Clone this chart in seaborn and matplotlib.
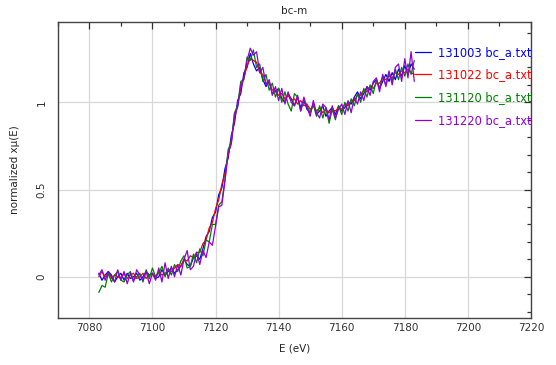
import numpy as np
import pandas as pd
import matplotlib
matplotlib.use("Agg")
import matplotlib.pyplot as plt
from matplotlib.ticker import MultipleLocator
import seaborn as sns

# Energie (eV), pas de 1 eV
energy = np.arange(7083, 7184, 1.0)

# Spectres normalises
s131003 = [0.02, -0.02, 0.01, 0.03, 0.01, -0.03, 0.00, 0.02, -0.02, 0.02,
           -0.01, 0.00, 0.02, -0.02, 0.00, 0.03, 0.01, 0.02, -0.01, 0.00,
           0.04, 0.01, 0.03, 0.05, 0.02, 0.04, 0.06, 0.10, 0.07, 0.06,
           0.11, 0.12, 0.10, 0.16, 0.23, 0.26, 0.34, 0.37, 0.47, 0.51,
           0.62, 0.68, 0.81, 0.88, 1.01, 1.05, 1.17, 1.20, 1.28, 1.22,
           1.18, 1.20, 1.13, 1.09, 1.12, 1.05, 1.06, 1.08, 1.02, 1.00,
           1.05, 1.02, 0.98, 1.03, 0.97, 1.01, 0.96, 0.94, 0.99, 0.93,
           0.95, 0.98, 0.92, 0.95, 0.97, 0.93, 0.98, 0.95, 0.97, 1.00,
           0.99, 1.03, 1.06, 1.02, 1.05, 1.09, 1.07, 1.11, 1.13, 1.08,
           1.12, 1.16, 1.12, 1.17, 1.13, 1.19, 1.15, 1.21, 1.16, 1.22,
           1.19]
s131022 = [0.00, 0.03, 0.00, 0.02, -0.01, 0.01, 0.00, -0.01, 0.02, -0.01,
           0.01, 0.02, -0.01, 0.00, 0.02, -0.01, 0.01, 0.02, 0.00, 0.03,
           0.01, 0.02, 0.04, 0.03, 0.05, 0.07, 0.06, 0.10, 0.09, 0.12,
           0.11, 0.14, 0.14, 0.19, 0.21, 0.28, 0.31, 0.39, 0.44, 0.53,
           0.59, 0.70, 0.78, 0.91, 0.98, 1.08, 1.14, 1.21, 1.25, 1.24,
           1.23, 1.17, 1.16, 1.11, 1.11, 1.07, 1.07, 1.04, 1.05, 1.02,
           1.04, 1.01, 1.02, 0.99, 1.01, 0.98, 0.99, 0.96, 0.98, 0.95,
           0.97, 0.94, 0.96, 0.94, 0.96, 0.95, 0.97, 0.96, 0.99, 0.98,
           1.01, 1.01, 1.04, 1.04, 1.07, 1.06, 1.09, 1.08, 1.11, 1.11,
           1.14, 1.13, 1.15, 1.14, 1.17, 1.16, 1.18, 1.17, 1.19, 1.17,
           1.16]
s131120 = [-0.09, -0.05, -0.06, 0.02, -0.03, 0.01, 0.03, -0.02, -0.03, 0.01,
           0.03, -0.02, 0.00, 0.02, -0.03, 0.04, -0.01, 0.05, 0.00, 0.02,
           0.06, 0.00, 0.05, 0.01, 0.07, 0.03, 0.09, 0.12, 0.05, 0.06,
           0.13, 0.08, 0.16, 0.12, 0.21, 0.20, 0.30, 0.30, 0.41, 0.43,
           0.56, 0.73, 0.77, 0.94, 0.98, 1.12, 1.13, 1.26, 1.24, 1.30,
           1.20, 1.22, 1.12, 1.16, 1.07, 1.11, 1.03, 1.08, 1.00, 1.06,
           0.99, 0.95, 1.05, 1.03, 0.95, 1.01, 0.98, 0.94, 0.99, 0.92,
           0.98, 0.91, 0.97, 0.88, 0.96, 0.90, 0.98, 0.93, 1.00, 0.95,
           1.02, 0.98, 1.05, 1.00, 1.08, 1.03, 1.10, 1.05, 1.13, 1.08,
           1.15, 1.10, 1.17, 1.12, 1.19, 1.13, 1.20, 1.15, 1.22, 1.16,
           1.24]
s131220 = [0.01, 0.04, -0.02, 0.03, 0.00, -0.03, 0.04, -0.02, 0.03, -0.04,
           0.02, -0.03, 0.04, 0.01, -0.02, 0.03, -0.04, 0.02, -0.02, 0.05,
           -0.03, 0.08, -0.01, 0.06, 0.00, 0.07, 0.01, 0.10, 0.15, 0.04,
           0.06, 0.14, 0.07, 0.15, 0.11, 0.20, 0.18, 0.29, 0.40, 0.41,
           0.55, 0.71, 0.76, 0.93, 0.97, 1.10, 1.14, 1.24, 1.31, 1.27,
           1.29, 1.17, 1.20, 1.10, 1.13, 1.04, 1.09, 1.01, 1.08, 0.99,
           1.06, 1.00, 0.98, 1.04, 0.95, 1.03, 0.97, 0.92, 1.01, 0.94,
           0.91, 0.99, 0.97, 0.90, 0.98, 0.91, 0.96, 0.99, 0.93, 1.01,
           0.94, 1.03, 0.99, 1.06, 1.01, 1.09, 1.04, 1.12, 1.14, 1.06,
           1.16, 1.09, 1.18, 1.10, 1.20, 1.22, 1.12, 1.25, 1.14, 1.29,
           1.12]

labels = ["131003 bc_a.txt", "131022 bc_a.txt", "131120 bc_a.txt", "131220 bc_a.txt"]
colors = ["#0000ff", "#ff0000", "#008000", "#9400d3"]
series = [s131003, s131022, s131120, s131220]

# DataFrame long
df = pd.concat([pd.DataFrame({"E": energy, "mu": s, "file": lab})
                for s, lab in zip(series, labels)], ignore_index=True)

sns.set_style("white")
plt.rcParams["font.family"] = ["DejaVu Sans"]

f, ax = plt.subplots(figsize=(5.56, 3.65), dpi=100)
sns.lineplot(data=df, x="E", y="mu", hue="file", palette=colors,
             estimator=None, sort=False, linewidth=0.9, ax=ax)

ax.set_xlim(7070, 7220)
ax.set_ylim(-0.236, 1.461)
ax.xaxis.set_major_locator(MultipleLocator(20))
ax.xaxis.set_minor_locator(MultipleLocator(10))
ax.yaxis.set_major_locator(MultipleLocator(0.5))
ax.yaxis.set_minor_locator(MultipleLocator(0.1))
ax.yaxis.set_major_formatter(plt.FuncFormatter(lambda v, p: f"{v:g}"))
ax.grid(True, which="major", color="#d8d8d8", linewidth=0.9)
ax.tick_params(which="both", direction="in", top=True, right=True,
               labelsize=7.5, colors="#333333")
ax.tick_params(which="major", length=5, width=0.9)
ax.tick_params(which="minor", length=3, width=0.9)
ax.tick_params(axis="y", which="major", pad=8)
for lab in ax.get_yticklabels():
    lab.set_rotation(90)
    lab.set_va("center")
for sp in ax.spines.values():
    sp.set_color("#444444")
    sp.set_linewidth(1.0)

ax.set_xlabel("E (eV)", fontsize=7.5, labelpad=8)
ax.set_ylabel("normalized xμ(E)", fontsize=7.5, labelpad=12)
ax.set_title("bc-m", fontsize=7.5, pad=6)

ax.legend(loc="upper left", bbox_to_anchor=(0.755, 0.92), frameon=False,
          fontsize=8.3, labelcolor="linecolor", handlelength=1.35,
          handletextpad=0.6, labelspacing=0.85, borderpad=0, borderaxespad=0)

f.subplots_adjust(left=0.104, right=0.955, top=0.940, bottom=0.129)
plt.savefig("out.png", dpi=100)
